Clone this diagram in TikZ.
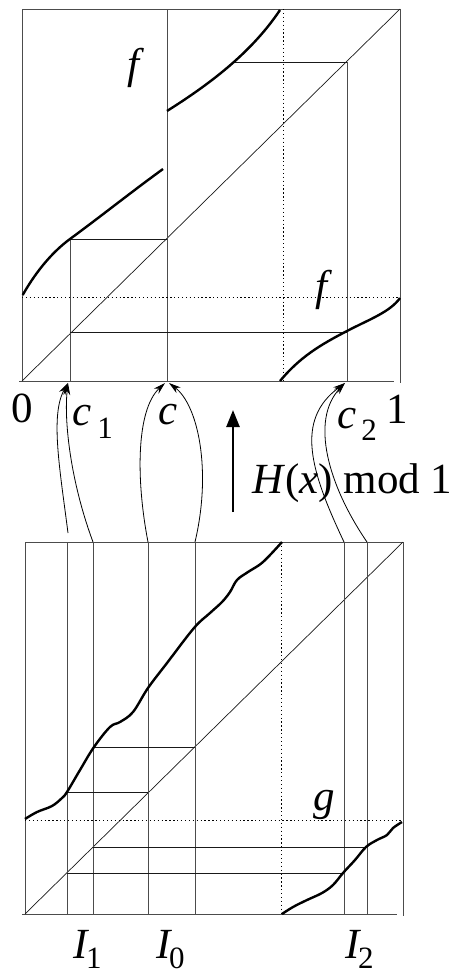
\documentclass[tikz,border=0pt]{standalone}
\usepackage{fontspec}
\setmainfont{Liberation Serif}
\usetikzlibrary{arrows.meta}
\newcommand\mainsz{\fontsize{43}{47}\selectfont}
\newcommand\subsz{\fontsize{31}{33}\selectfont}
\begin{document}
\begin{tikzpicture}[x=1pt,y=-1pt,
  boxline/.style={draw=black!70,line width=0.9pt},
  auxline/.style={draw=black!90,line width=0.7pt},
  dotline/.style={draw=black,line width=1pt,dash pattern=on 1.3pt off 2.6pt},
  graphline/.style={draw=black,line width=2.4pt},
  conn/.style={draw=black,line width=0.8pt,-{Stealth[length=12pt,width=7pt]}},
  lbl/.style={font=\mainsz,inner sep=0pt,anchor=base}]
\useasboundingbox (0,0) rectangle (454,975);

% ---------- top box ----------
\draw[boxline] (22,381) -- (22,9) -- (400,9) -- (400,383);
\draw[boxline] (19,381) -- (394,381);
\draw[auxline] (22,381) -- (400,9);
\draw[boxline] (167,9) -- (167,381);
\draw[boxline] (70,239) -- (70,381);
\draw[boxline] (347,62) -- (347,381);
\draw[auxline] (70,239) -- (167,239);
\draw[auxline] (70,332) -- (347,332);
\draw[auxline] (234,62) -- (347,62);
\draw[dotline] (283,9) -- (283,381);
\draw[dotline] (22,297) -- (400,297);
\draw[graphline] (22.7,295) .. controls (38,268) and (55,250) .. (70,239)
   .. controls (100,217) and (130,193) .. (163,169);
\draw[graphline] (167,111) .. controls (205,87) and (250,55) .. (280,10);
\draw[graphline] (280,381) .. controls (300,357) and (320,345) .. (347,331)
   .. controls (370,319) and (390,312) .. (400,298);

% ---------- bottom box ----------
\draw[boxline] (25,914) -- (25,542) -- (403,542) -- (403,916);
\draw[boxline] (22,914) -- (397,914);
\draw[auxline] (25,914) -- (403,542);
\foreach \xx in {67,93,148,195,344,367} \draw[boxline] (\xx,542) -- (\xx,914);
\draw[dotline] (281,542) -- (281,914);
\draw[dotline] (25,820) -- (403,820);
\draw[auxline] (93,747) -- (195,747);
\draw[auxline] (67,792) -- (148,792);
\draw[auxline] (93,847) -- (367,847);
\draw[auxline] (67,873) -- (344,873);
\draw[graphline] plot[smooth,tension=0.6] coordinates {(25,819) (37,812) (52,806) (62,798) (67,792) (80,770) (94,747) (110,727) (120,722) (133,712) (148,688) (167,663) (194,628) (210,613) (222,602) (230,592) (237,580) (248,572) (263,562) (282,542)};
\draw[graphline] plot[smooth,tension=0.6] coordinates {(282,914) (293,907) (307,900) (322,893) (333,885) (343,873) (355,860) (366,847) (377,840) (387,835) (393,828) (402,822)};

% ---------- labels ----------
\node[lbl] (zero) at (22,422) {0};
\node[lbl,anchor=base west] (cone) at (72,425) {\textit{c}\hspace{6pt}\raisebox{-13pt}{\subsz 1}};
\node[lbl] (cc) at (168,424) {\textit{c}};
\node[lbl,anchor=base west] (ctwo) at (337,428) {\textit{c}\hspace{5pt}\raisebox{-12pt}{\subsz 2}};
\node[lbl] (one) at (397,423) {1};
\node[lbl,anchor=base west] (hlab) at (252,493) {\textit{H}(\textit{x}) mod 1};
\node[lbl] (fa) at (136,78) {\textit{f}};
\node[lbl] (fb) at (324,300) {\textit{f}};
\node[lbl] (gg) at (324,810) {\textit{g}};
\node[lbl,anchor=base west] (Ione) at (73,958) {\textit{I}\hspace{-3pt}\raisebox{-10pt}{\subsz 1}};
\node[lbl,anchor=base west] (Izero) at (156,958) {\textit{I}\hspace{-3pt}\raisebox{-10pt}{\subsz 0}};
\node[lbl,anchor=base west] (Itwo) at (345,958) {\textit{I}\hspace{-3pt}\raisebox{-10pt}{\subsz 2}};

% ---------- H arrow ----------
\coordinate (hb) at (233,512);
\coordinate (ht) at (233,410);
\draw[line width=2.5pt,-{Triangle[length=17pt,width=13pt]}] (hb) -- (ht);

% ---------- connectors ----------
\coordinate (c1tip) at (68,383);
\coordinate (s1) at (68,533);
\coordinate (s2) at (93,542);
\draw[conn] (s1) .. controls (60,470) and (50,415) .. (c1tip);
\draw[conn] (s2) .. controls (70,480) and (64,420) .. (c1tip);
\coordinate (ctipL) at (165,383);
\coordinate (ctipR) at (169,383);
\coordinate (s3) at (148,542);
\coordinate (s4) at (195,542);
\draw[conn] (s3) .. controls (136,480) and (136,410) .. (ctipL);
\draw[conn] (s4) .. controls (212,470) and (198,405) .. (ctipR);
\coordinate (c2tip) at (345,383);
\coordinate (s5) at (344,542);
\coordinate (s6) at (367,542);
\draw[conn] (s5) .. controls (310,470) and (295,420) .. (c2tip);
\draw[conn] (s6) .. controls (328,485) and (310,420) .. (c2tip);
\end{tikzpicture}
\end{document}
